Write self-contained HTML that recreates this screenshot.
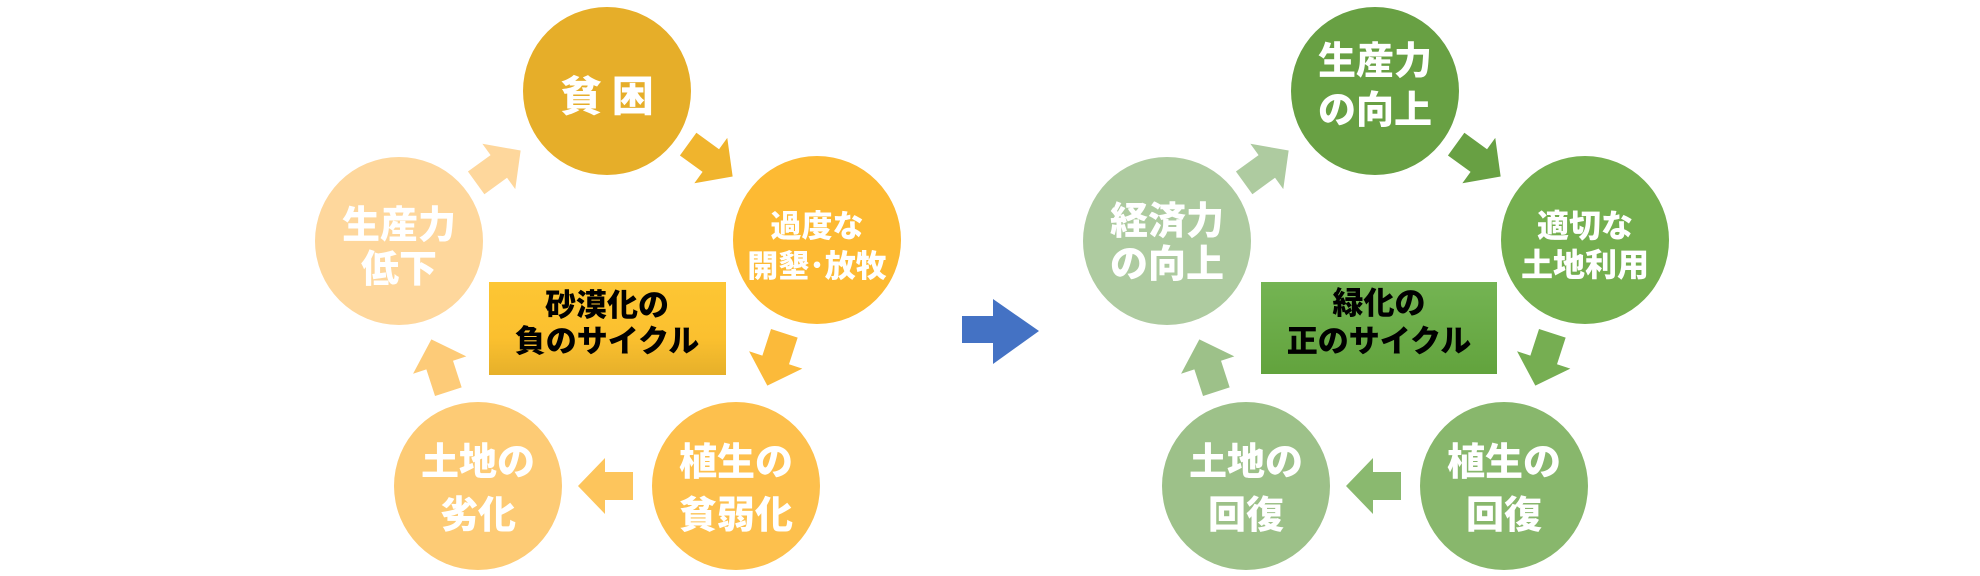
<!DOCTYPE html>
<html><head><meta charset="utf-8"><style>
html,body{margin:0;padding:0;background:#fff;}
svg{display:block}
text{font-family:"Noto Sans CJK JP","Liberation Sans",sans-serif;font-weight:900;text-anchor:middle;}
</style></head><body>
<svg width="1980" height="576" viewBox="0 0 1980 576" xmlns="http://www.w3.org/2000/svg">
<defs>
<linearGradient id="gy" x1="0" y1="0" x2="0" y2="1"><stop offset="0" stop-color="#FDC634"/><stop offset="0.6" stop-color="#FBC02F"/><stop offset="1" stop-color="#E6B02A"/></linearGradient>
<linearGradient id="gg" x1="0" y1="0" x2="0" y2="1"><stop offset="0" stop-color="#74B453"/><stop offset="1" stop-color="#62A33D"/></linearGradient>
<polygon id="ar" points="-27,-14 1,-14 1,-28 28,0 1,28 1,14 -27,14"/>
</defs>
<!-- LEFT -->
<circle cx="607" cy="91" r="84" fill="#E6AE29"/>
<circle cx="817" cy="240" r="84" fill="#FDBA33"/>
<circle cx="736" cy="486" r="84" fill="#FDC04D"/>
<circle cx="478" cy="486" r="84" fill="#FDCB75"/>
<circle cx="399" cy="241" r="84" fill="#FED79C"/>
<use href="#ar" fill="#F0B42D" transform="translate(710,160) rotate(36)"/>
<use href="#ar" fill="#FBBA3A" transform="translate(776,359) rotate(108)"/>
<use href="#ar" fill="#FDC55C" transform="translate(606,486) rotate(180)"/>
<use href="#ar" fill="#FDCB78" transform="translate(440,366) rotate(252)"/>
<use href="#ar" fill="#FED79C" transform="translate(498,167) rotate(-36)"/>
<rect x="489" y="282" width="237" height="93" fill="url(#gy)"/>
<text x="607" y="111" font-size="42" fill="#fff">貧 困</text>
<text x="817" y="237" font-size="31" fill="#fff">過度な</text>
<text x="817" y="277" font-size="31" fill="#fff">開墾･放牧</text>
<text x="736" y="475" font-size="38" fill="#fff">植生の</text>
<text x="736" y="528" font-size="38" fill="#fff">貧弱化</text>
<text x="478" y="475" font-size="38" fill="#fff">土地の</text>
<text x="478" y="528" font-size="38" fill="#fff">劣化</text>
<text x="399" y="238" font-size="38" fill="#fff">生産力</text>
<text x="399" y="282" font-size="38" fill="#fff">低下</text>
<text x="607" y="316" font-size="31" fill="#000">砂漠化の</text>
<text x="607" y="352" font-size="31" fill="#000">負のサイクル</text>
<!-- center arrow -->
<polygon points="962,316 993,316 993,299 1039,331 993,364 993,343 962,343" fill="#4472C4"/>
<!-- RIGHT -->
<circle cx="1375" cy="91" r="84" fill="#68A043"/>
<circle cx="1585" cy="240" r="84" fill="#75AF4F"/>
<circle cx="1504" cy="486" r="84" fill="#88B76C"/>
<circle cx="1246" cy="486" r="84" fill="#9DC189"/>
<circle cx="1167" cy="241" r="84" fill="#AECBA0"/>
<use href="#ar" fill="#68A043" transform="translate(1478,160) rotate(36)"/>
<use href="#ar" fill="#76AE52" transform="translate(1544,359) rotate(108)"/>
<use href="#ar" fill="#8AB96F" transform="translate(1374,486) rotate(180)"/>
<use href="#ar" fill="#9DC189" transform="translate(1208,366) rotate(252)"/>
<use href="#ar" fill="#AECBA0" transform="translate(1266,167) rotate(-36)"/>
<rect x="1261" y="282" width="236" height="92" fill="url(#gg)"/>
<text x="1375" y="74" font-size="38" fill="#fff">生産力</text>
<text x="1375" y="123" font-size="38" fill="#fff">の向上</text>
<text x="1585" y="237" font-size="32" fill="#fff">適切な</text>
<text x="1585" y="276" font-size="32" fill="#fff">土地利用</text>
<text x="1167" y="234" font-size="38" fill="#fff">経済力</text>
<text x="1167" y="277" font-size="38" fill="#fff">の向上</text>
<text x="1504" y="475" font-size="38" fill="#fff">植生の</text>
<text x="1504" y="528" font-size="38" fill="#fff">回復</text>
<text x="1246" y="475" font-size="38" fill="#fff">土地の</text>
<text x="1246" y="528" font-size="38" fill="#fff">回復</text>
<text x="1379" y="314" font-size="31" fill="#000">緑化の</text>
<text x="1379" y="352" font-size="31" fill="#000">正のサイクル</text>
</svg>
</body></html>
